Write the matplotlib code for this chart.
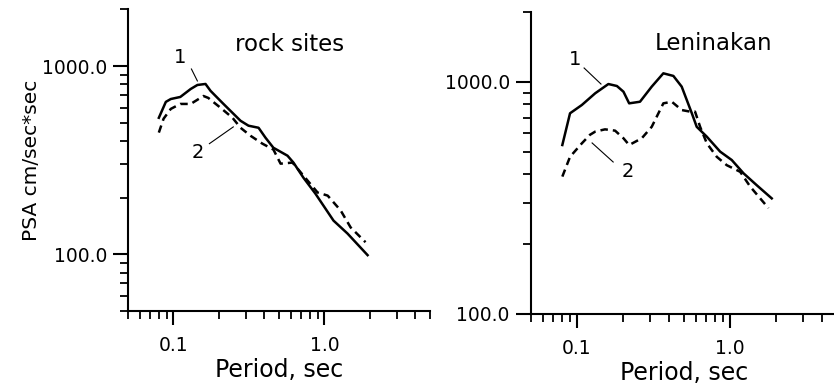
import numpy as np
import matplotlib.pyplot as plt
from matplotlib.ticker import LogLocator, FixedLocator, FixedFormatter, NullFormatter

plt.rcParams['font.family'] = ['DejaVu Sans']

# rock sites, curve 1 (solid) and curve 2 (dashed)
rock_period_1 = [0.080, 0.089, 0.096, 0.111, 0.130, 0.144, 0.163, 0.176, 0.211, 0.246, 0.278,
                 0.314, 0.366, 0.407, 0.459, 0.569, 0.623, 0.726, 0.871, 1.148, 1.42, 1.93]
rock_psa_1 = [531, 645, 668, 685, 755, 793, 803, 738, 637, 564, 512,
              482, 470, 416, 368, 334, 307, 255, 210, 151, 129, 99]
rock_period_2 = [0.080, 0.086, 0.096, 0.111, 0.130, 0.158, 0.170, 0.205, 0.246, 0.278,
                 0.324, 0.388, 0.459, 0.512, 0.614, 0.90, 1.05, 1.28, 1.49, 1.87]
rock_psa_2 = [443, 525, 592, 629, 629, 693, 677, 600, 531, 470,
              426, 387, 360, 303, 307, 213, 205, 171, 139, 116]

# Leninakan
len_period_1 = [0.0805, 0.0904, 0.108, 0.132, 0.161, 0.183, 0.202, 0.220, 0.259, 0.309, 0.368,
                0.428, 0.485, 0.565, 0.608, 0.708, 0.865, 1.03, 1.23, 1.50, 1.88]
len_psa_1 = [535, 733, 796, 894, 980, 961, 908, 809, 822, 955, 1090,
             1062, 955, 733, 641, 581, 501, 461, 404, 359, 315]
len_period_2 = [0.0805, 0.0904, 0.108, 0.122, 0.132, 0.153, 0.178, 0.202, 0.220, 0.266, 0.309,
                0.368, 0.418, 0.485, 0.551, 0.593, 0.640, 0.708, 0.822, 0.955, 1.17, 1.36,
                1.58, 1.79]
len_psa_2 = [391, 476, 544, 592, 611, 625, 617, 572, 535, 572, 641,
             809, 822, 757, 745, 745, 641, 544, 476, 438, 410, 354,
             315, 286]

x_ticks = [0.1, 1.0]
x_tick_labels = ['0.1', '1.0']
y_ticks = [100, 1000]
y_tick_labels = ['100.0', '1000.0']

fig = plt.figure(figsize=(8.34, 3.92), dpi=100)
ax1 = fig.add_axes([0.1535, 0.2066, 0.3621, 0.7696])
ax2 = fig.add_axes([0.6363, 0.199, 0.367, 0.770])


def style_axes(ax, ylim):
    ax.set_xscale('log')
    ax.set_yscale('log')
    ax.set_xlim(0.05, 5)
    ax.set_ylim(*ylim)
    for side in ['top', 'right']:
        ax.spines[side].set_visible(False)
    for side in ['left', 'bottom']:
        ax.spines[side].set_linewidth(1.5)
    ax.xaxis.set_major_locator(FixedLocator(x_ticks))
    ax.xaxis.set_major_formatter(FixedFormatter(x_tick_labels))
    ax.yaxis.set_major_locator(FixedLocator(y_ticks))
    ax.yaxis.set_major_formatter(FixedFormatter(y_tick_labels))
    ax.xaxis.set_minor_locator(LogLocator(base=10, subs=np.arange(2, 10), numticks=20))
    ax.yaxis.set_minor_locator(LogLocator(base=10, subs=np.arange(2, 10), numticks=20))
    ax.xaxis.set_minor_formatter(NullFormatter())
    ax.yaxis.set_minor_formatter(NullFormatter())
    ax.tick_params(axis='x', which='major', direction='out', length=10, width=1.5, pad=8, labelsize=13.5)
    ax.tick_params(axis='x', which='minor', direction='out', length=6, width=1.3)
    ax.tick_params(axis='y', which='major', direction='out', length=11, width=1.5, pad=4, labelsize=13.5)
    ax.tick_params(axis='y', which='minor', direction='out', length=6, width=1.3)
    ax.set_xlabel('Period, sec', fontsize=17, labelpad=2)


style_axes(ax1, (50, 2000))
style_axes(ax2, (100, 2000))

ax1.plot(rock_period_1, rock_psa_1, color='black', lw=1.8)
ax1.plot(rock_period_2, rock_psa_2, color='black', lw=1.8, linestyle=(0, (3, 2)))
ax2.plot(len_period_1, len_psa_1, color='black', lw=1.8)
ax2.plot(len_period_2, len_psa_2, color='black', lw=1.8, linestyle=(0, (3, 2)))

ax1.set_ylabel('PSA cm/sec*sec', fontsize=14.5, labelpad=1)

ax1.text(0.586, 1307, 'rock sites', fontsize=16.5, ha='center', va='center')
ax2.text(0.789, 1468, 'Leninakan', fontsize=16.5, ha='center', va='center')

# curve numbers with leader lines
ax1.text(0.111, 1116, '1', fontsize=14, ha='center', va='center')
ax1.plot([0.1315, 0.144], [964, 833], color='black', lw=0.8)
ax1.text(0.144, 347, '2', fontsize=14, ha='center', va='center')
ax1.plot([0.173, 0.249], [387, 475], color='black', lw=0.8)

ax2.text(0.0975, 1244, '1', fontsize=14, ha='center', va='center')
ax2.plot([0.1117, 0.144], [1149, 980], color='black', lw=0.8)
ax2.text(0.216, 410, '2', fontsize=14, ha='center', va='center')
ax2.plot([0.126, 0.173], [546, 452], color='black', lw=0.8)

fig.savefig('out.png', dpi=100)
